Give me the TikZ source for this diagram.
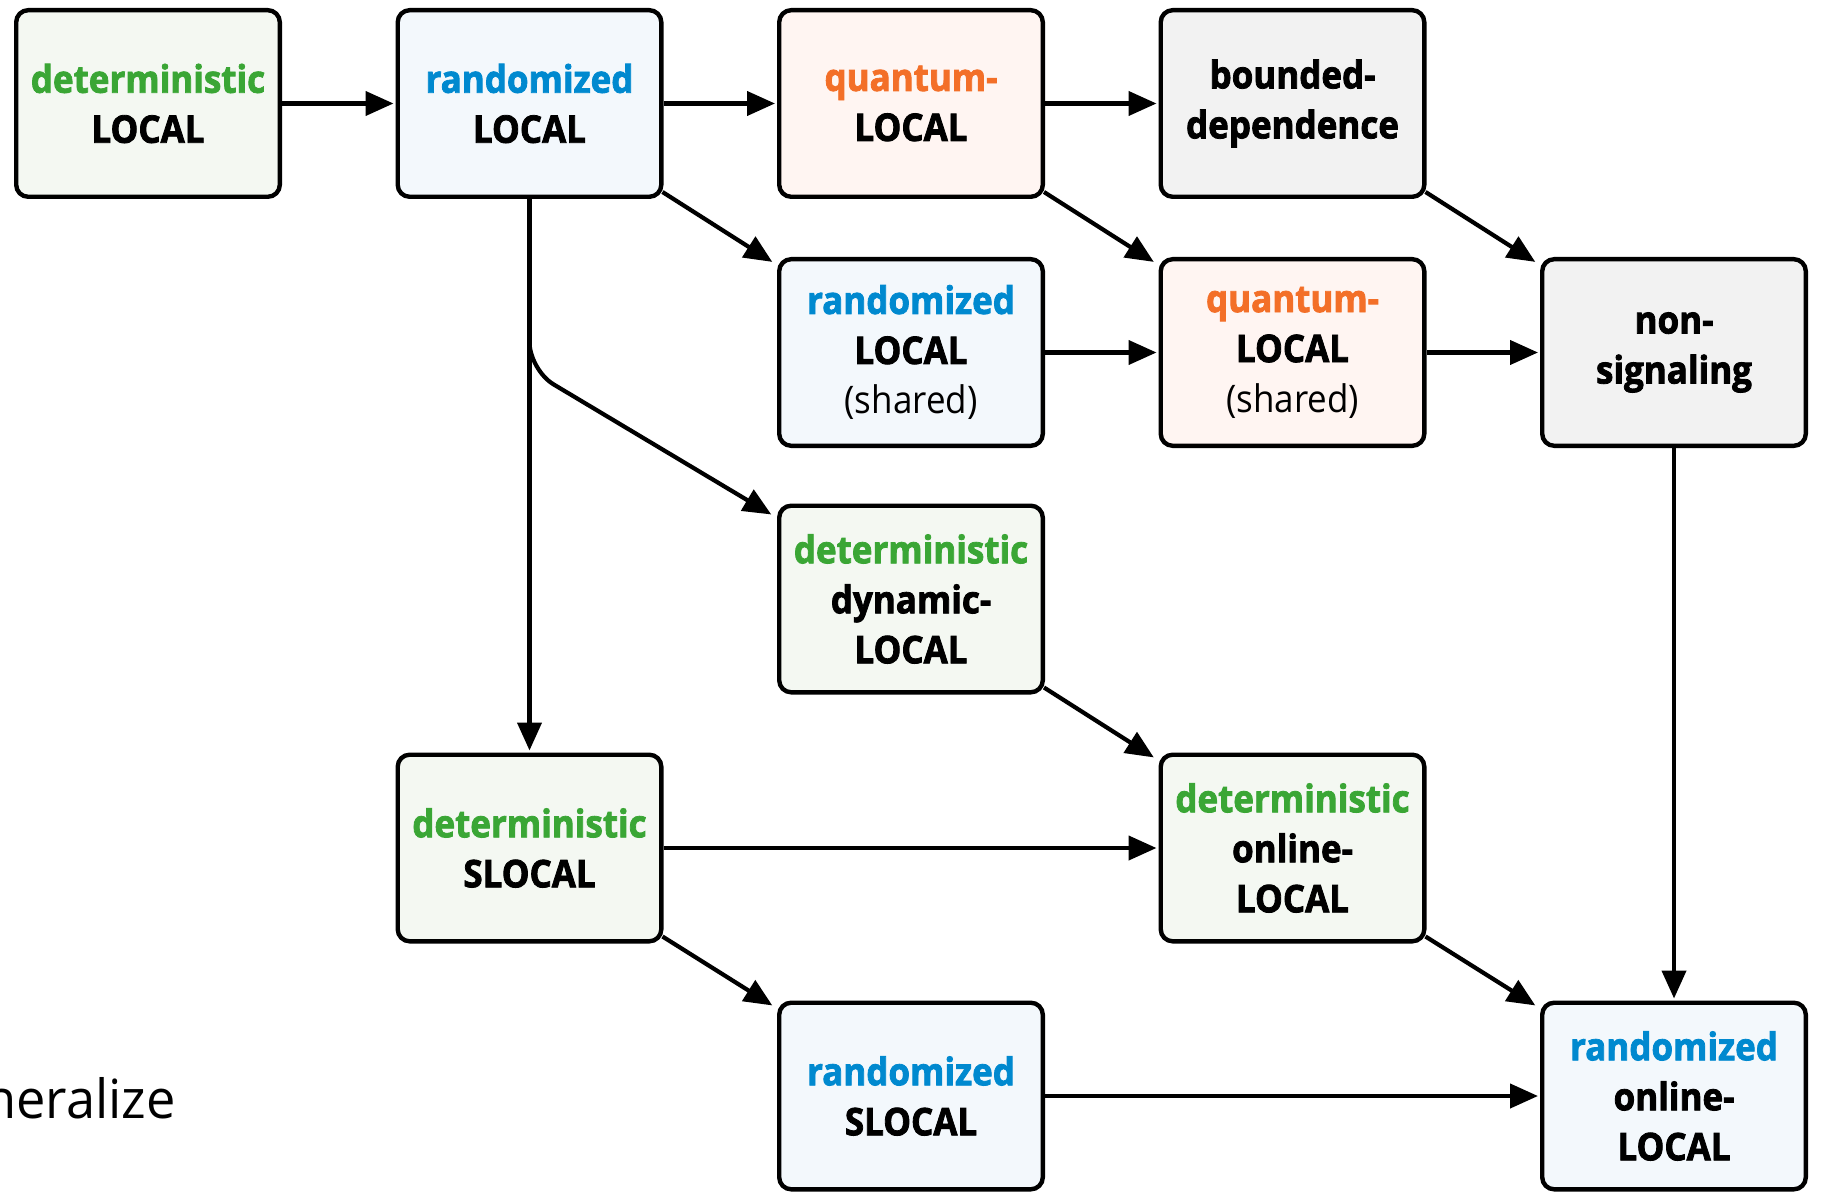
\documentclass[tikz,border=0pt]{standalone}
\usepackage{fontspec}
\setmainfont{Open Sans}[FakeStretch=0.92, BoldFeatures={FakeBold=2.1}]
\newfontfamily\plainfont{Open Sans}[FakeStretch=0.97]
\usetikzlibrary{arrows.meta,calc}

\definecolor{detgreen}{HTML}{3AA635}
\definecolor{randblue}{HTML}{0089CF}
\definecolor{quantorange}{HTML}{F36F28}
\definecolor{detfill}{HTML}{F4F8F2}
\definecolor{randfill}{HTML}{F3F8FC}
\definecolor{quantfill}{HTML}{FFF5F2}
\definecolor{grayfill}{HTML}{F2F2F2}

\tikzset{
  model/.style={draw=black, line width=2.2pt, rounded corners=6pt,
    minimum width=131.8pt, minimum height=93.3pt, inner sep=0pt,
    align=center, font=\fontsize{19}{25}\selectfont\bfseries},
  detbox/.style={model, fill=detfill},
  randbox/.style={model, fill=randfill},
  quantbox/.style={model, fill=quantfill},
  graybox/.style={model, fill=grayfill},
  link/.style={draw=black, line width=2.1pt,
    -{Triangle[length=14pt,width=12pt]}, shorten >=1pt},
}
\newcommand{\detw}{\textcolor{detgreen}{deterministic}}
\newcommand{\randw}{\textcolor{randblue}{randomized}}
\newcommand{\quantw}{\textcolor{quantorange}{quantum-}}
\newcommand{\sharedw}{{\mdseries (shared)}}
% diagonal link leaving the lower right corner of one box
% and entering the upper left corner of another
\newcommand{\diaglink}[2]{%
  \draw[link] ($(#1.south east)+(-1,-7)$) -- ($(#2.north west)+(-3,6)$);}

\begin{document}
\begin{tikzpicture}[x=0.5pt, y=-0.5pt]
  \useasboundingbox (0,0) rectangle (1824,1192);

  % models of computation
  \node[detbox]   (dl)  at (148,103.5)    {\detw\\LOCAL};
  \node[randbox]  (rl)  at (529.5,103.5)  {\randw\\LOCAL};
  \node[quantbox] (ql)  at (911,103.5)    {\quantw\\LOCAL};
  \node[graybox]  (bd)  at (1292.5,103.5) {bounded-\\dependence};

  \node[randbox]  (rs)  at (911,352.5)    {\randw\\LOCAL\\\sharedw};
  \node[quantbox] (qs)  at (1292.5,352.5) {\quantw\\LOCAL\\\sharedw};
  \node[graybox]  (ns)  at (1674,352.5)   {non-\\signaling};

  \node[detbox]   (dd)  at (911,599)      {\detw\\dynamic-\\LOCAL};

  \node[detbox]   (ds)  at (529.5,848)    {\detw\\SLOCAL};
  \node[detbox]   (do)  at (1292.5,848)   {\detw\\online-\\LOCAL};

  \node[randbox]  (rsl) at (911,1096)     {\randw\\SLOCAL};
  \node[randbox]  (ro)  at (1674,1096)    {\randw\\online-\\LOCAL};

  % caption word running in from the left edge
  \node[anchor=base east, inner sep=0pt,
        font=\plainfont\fontsize{27}{31}\selectfont] (cap) at (176,1118) {neralize};

  % simulation arrows
  \draw[link] (dl) -- (rl);
  \draw[link] (rl) -- (ql);
  \draw[link] (ql) -- (bd);
  \diaglink{rl}{rs}
  \diaglink{ql}{qs}
  \diaglink{bd}{ns}
  \draw[link] (rs) -- (qs);
  \draw[link] (qs) -- (ns);
  \draw[link] (rl.south) -- (ds.north);
  \draw[link, rounded corners=14pt] (rl.south) -- ++(0,171)
    -- ($(dd.north west)+(-4,12)$);
  \diaglink{dd}{do}
  \draw[link] (ds) -- (do);
  \diaglink{ds}{rsl}
  \diaglink{do}{ro}
  \draw[link] (rsl) -- (ro);
  \draw[link] (ns.south) -- (ro.north);
\end{tikzpicture}
\end{document}
